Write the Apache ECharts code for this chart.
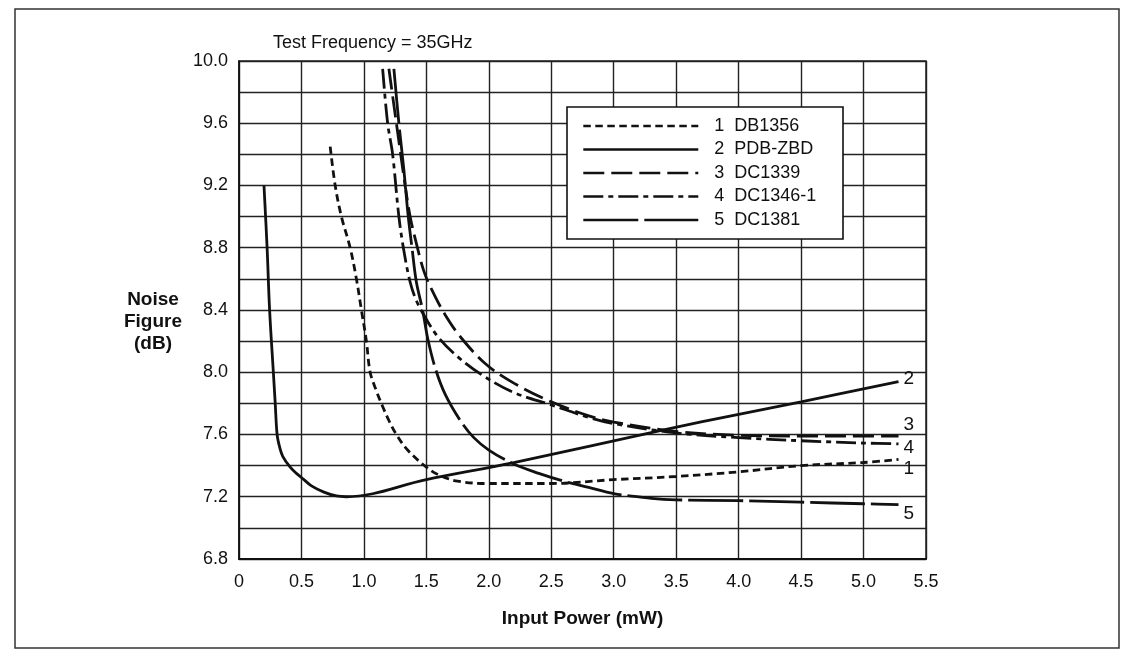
<!DOCTYPE html>
<html>
<head>
<meta charset="utf-8">
<script src="https://cdn.jsdelivr.net/npm/echarts@6/dist/echarts.min.js"></script>
<style>
  html, body { margin: 0; padding: 0; background: #fff; }
  #chart { width: 1123px; height: 658px; }
</style>
</head>
<body>
<div id="chart"></div>
<script>
// Noise figure vs. LO input power for five mixer diodes at 35 GHz
const seriesNames = ['1  DB1356', '2  PDB-ZBD', '3  DC1339', '4  DC1346-1', '5  DC1381'];
const endTags = ['1', '2', '3', '4', '5'];

// [input power (mW), noise figure (dB)]
const db1356 = [
  [0.73, 9.45], [0.77, 9.2], [0.82, 9.0], [0.89, 8.8], [0.94, 8.6], [0.98, 8.4],
  [1.02, 8.2], [1.05, 8.0], [1.10, 7.88], [1.15, 7.78], [1.20, 7.69], [1.26, 7.60],
  [1.35, 7.50], [1.50, 7.39], [1.60, 7.34], [1.75, 7.30], [2.0, 7.285], [2.5, 7.285],
  [3.0, 7.31], [3.5, 7.33], [4.0, 7.36], [4.5, 7.40], [5.0, 7.42], [5.28, 7.44]
];
const pdbZbd = [
  [0.20, 9.2], [0.225, 8.8], [0.245, 8.4], [0.275, 8.0], [0.29, 7.8], [0.305, 7.6],
  [0.325, 7.52], [0.35, 7.46], [0.41, 7.39], [0.46, 7.35], [0.52, 7.31], [0.58, 7.27],
  [0.68, 7.23], [0.78, 7.205], [0.86, 7.2], [1.5, 7.31], [2.2, 7.42], [3.4, 7.63],
  [4.0, 7.73], [4.5, 7.81], [5.28, 7.94]
];
const dc1339 = [
  [1.20, 9.95], [1.26, 9.6], [1.33, 9.2], [1.37, 9.0], [1.41, 8.86], [1.48, 8.65],
  [1.55, 8.52], [1.65, 8.37], [1.78, 8.22], [1.98, 8.05], [2.2, 7.93], [2.5, 7.81],
  [2.8, 7.72], [3.0, 7.68], [3.5, 7.62], [4.0, 7.595], [4.5, 7.59], [5.0, 7.59], [5.28, 7.59]
];
const dc1346 = [
  [1.15, 9.95], [1.19, 9.6], [1.23, 9.4], [1.28, 9.0], [1.32, 8.78], [1.37, 8.58],
  [1.42, 8.46], [1.50, 8.34], [1.60, 8.22], [1.75, 8.10], [1.95, 7.98], [2.2, 7.87],
  [2.5, 7.79], [2.8, 7.71], [3.0, 7.67], [3.5, 7.61], [4.0, 7.58], [4.5, 7.56],
  [5.0, 7.545], [5.28, 7.54]
];
const dc1381 = [
  [1.24, 9.95], [1.28, 9.6], [1.32, 9.3], [1.355, 9.0], [1.385, 8.8], [1.42, 8.58],
  [1.47, 8.4], [1.51, 8.22], [1.57, 8.03], [1.65, 7.86], [1.78, 7.68], [1.88, 7.58],
  [2.0, 7.5], [2.2, 7.41], [2.4, 7.35], [2.6, 7.30], [2.8, 7.26], [3.0, 7.22],
  [3.3, 7.19], [3.5, 7.18], [4.0, 7.175], [4.5, 7.165], [5.0, 7.155], [5.28, 7.15]
];

const seriesData = [db1356, pdbZbd, dc1339, dc1346, dc1381];
const dashPatterns = [[7.5, 4.5], 'solid', [21, 7], [20, 5, 5, 5], [55, 6]];
const tagOffsets = [[0, 9], [0, -3], [0, -11], [0, 4], [0, 9]];

const FONT = '"Liberation Sans", Arial, Helvetica, sans-serif';
const INK = '#111';
const gridLine = { color: '#222', width: 1.4 };

const chart = echarts.init(document.getElementById('chart'), null, { renderer: 'canvas' });

const series = seriesData.map((data, i) => ({
  name: seriesNames[i],
  type: 'line',
  data: data,
  symbol: 'none',
  smooth: 0.35,
  lineStyle: { color: INK, width: 2.8, type: dashPatterns[i], cap: 'butt' },
  itemStyle: { color: INK },
  endLabel: {
    show: true,
    formatter: endTags[i],
    color: INK,
    fontFamily: FONT,
    fontSize: 19,
    distance: 5,
    offset: tagOffsets[i]
  },
  z: 3
}));

chart.setOption({
  animation: false,
  backgroundColor: '#fff',
  grid: { left: 239, top: 61, width: 687, height: 498, show: true, borderColor: '#222', borderWidth: 1.5 },
  xAxis: {
    type: 'value',
    min: 0, max: 5.5, interval: 0.5,
    name: 'Input Power (mW)',
    nameLocation: 'middle',
    nameGap: 50,
    nameTextStyle: { fontFamily: FONT, fontSize: 19, fontWeight: 'bold', color: INK },
    axisLine: { show: true, lineStyle: { color: '#111', width: 2 } },
    axisTick: { show: false },
    axisLabel: {
      margin: 14, color: INK, fontFamily: FONT, fontSize: 18,
      formatter: v => (v === 0 ? '0' : v.toFixed(1))
    },
    splitLine: { show: true, lineStyle: gridLine }
  },
  yAxis: {
    type: 'value',
    min: 6.8, max: 10.0, interval: 0.4,
    axisLine: { show: true, lineStyle: { color: '#111', width: 1.6 } },
    axisTick: { show: false },
    axisLabel: {
      margin: 11, color: INK, fontFamily: FONT, fontSize: 18,
      formatter: v => v.toFixed(1)
    },
    splitLine: { show: true, lineStyle: gridLine },
    minorTick: { show: false, splitNumber: 2 },
    minorSplitLine: { show: true, lineStyle: gridLine }
  },
  legend: {
    show: true,
    orient: 'vertical',
    left: 582,
    top: 117,
    padding: 0,
    itemWidth: 115,
    itemHeight: 14,
    itemGap: 5.5,
    selectedMode: false,
    data: seriesNames,
    itemStyle: { color: 'rgba(0,0,0,0)', borderWidth: 0, opacity: 0 },
    lineStyle: { width: 2.6 },
    textStyle: { color: INK, fontFamily: FONT, fontSize: 18, padding: [0, 0, 0, 11] },
    z: 5
  },
  graphic: [
    {
      type: 'rect',
      shape: { x: 15, y: 9, width: 1104, height: 639 },
      style: { fill: 'none', stroke: '#333', lineWidth: 1.5 },
      silent: true, z: 0
    },
    {
      type: 'rect',
      shape: { x: 567, y: 107, width: 276, height: 132 },
      style: { fill: '#fff', stroke: '#111', lineWidth: 1.6 },
      silent: true, z: 4
    },
    {
      type: 'text',
      left: 273, top: 34,
      style: { text: 'Test Frequency = 35GHz', fill: INK, font: '18px ' + FONT },
      silent: true
    },
    {
      type: 'text',
      x: 153, y: 322,
      style: {
        text: 'Noise\nFigure\n(dB)', fill: INK, font: 'bold 19px ' + FONT,
        align: 'center', verticalAlign: 'middle', lineHeight: 22
      },
      silent: true
    }
  ],
  series: series
});
</script>
</body>
</html>
